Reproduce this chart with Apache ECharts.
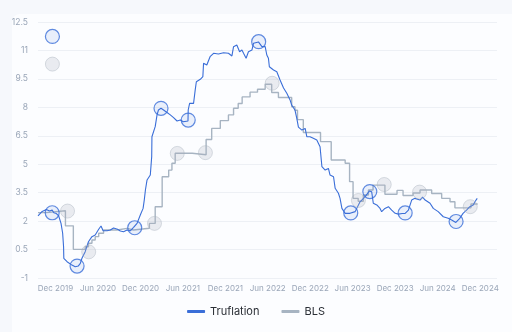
<!DOCTYPE html>
<html>
<head>
<meta charset="utf-8">
<script src="https://cdn.jsdelivr.net/npm/echarts@6/dist/echarts.min.js"></script>
<style>
  html, body { margin: 0; padding: 0; background: #f6f8fc; }
  #panel { position: absolute; left: 12px; top: 14px; width: 500px; height: 318px; background: #fcfdff; border-radius: 8px 0 0 0; }
  #chart { position: absolute; left: 0; top: 0; width: 512px; height: 332px; }
</style>
</head>
<body>
<div id="panel"></div>
<div id="chart"></div>
<script>
// Truflation daily inflation index (YoY %), sampled along its path
const truflationDates = [
  '2019-09-17','2019-10-05','2019-10-23','2019-11-05','2019-11-17','2019-11-24','2019-12-05','2019-12-15','2019-12-25',
  '2020-01-01','2020-01-05','2020-01-06','2020-01-20','2020-02-10','2020-02-24','2020-03-08','2020-03-17','2020-03-24',
  '2020-04-07','2020-04-21','2020-05-06','2020-05-20','2020-06-04','2020-06-14','2020-06-23','2020-07-10','2020-07-24',
  '2020-08-07','2020-08-24','2020-09-05','2020-09-19','2020-10-04','2020-10-18','2020-11-01','2020-11-16','2020-11-30',
  '2020-12-12','2020-12-17','2020-12-22','2020-12-29','2021-01-12','2021-01-18','2021-01-19','2021-01-26','2021-02-02',
  '2021-02-10','2021-02-16','2021-02-27','2021-03-10','2021-03-25','2021-04-08','2021-04-22','2021-05-07','2021-05-21',
  '2021-06-03','2021-06-23','2021-06-24','2021-06-30','2021-07-17','2021-07-24','2021-07-29','2021-08-15','2021-08-26',
  '2021-08-29','2021-09-12','2021-09-26','2021-10-11','2021-11-01','2021-11-23','2021-12-14','2021-12-29','2022-01-05',
  '2022-01-19','2022-01-31','2022-02-10','2022-02-17','2022-02-28','2022-03-10','2022-03-25','2022-04-01','2022-04-22',
  '2022-05-07','2022-05-21','2022-05-28','2022-06-04','2022-06-08','2022-06-26','2022-07-10','2022-07-24','2022-08-08',
  '2022-08-22','2022-09-05','2022-09-12','2022-09-26','2022-10-04','2022-10-11','2022-10-26','2022-11-09','2022-11-16',
  '2022-11-30','2022-12-14','2022-12-29','2023-01-12','2023-01-20','2023-02-03','2023-02-17','2023-02-24','2023-03-11',
  '2023-03-18','2023-04-01','2023-04-08','2023-04-16','2023-04-30','2023-05-21','2023-06-12','2023-07-03','2023-07-25',
  '2023-08-12','2023-08-22','2023-08-29','2023-09-13','2023-09-27','2023-10-04','2023-10-18','2023-11-02','2023-11-16',
  '2023-12-01','2023-12-15','2023-12-31','2024-01-13','2024-01-27','2024-02-10','2024-02-24','2024-03-17','2024-03-28',
  '2024-04-08','2024-04-29','2024-05-13','2024-06-03','2024-06-25','2024-07-16','2024-07-31','2024-08-18','2024-09-04',
  '2024-09-18','2024-10-03','2024-10-17','2024-11-01','2024-11-08','2024-11-18'
];
const truflationValues = [
  2.27,2.51,2.61,2.53,2.58,2.44,2.40,2.27,1.88,
  1.36,0.65,0.04,-0.14,-0.32,-0.41,-0.37,-0.23,0.04,
  0.39,0.91,1.18,1.27,1.57,1.74,1.49,1.49,1.53,
  1.64,1.57,1.48,1.44,1.53,1.49,1.67,1.88,2.32,
  2.67,3.11,3.64,4.17,4.43,5.40,6.45,6.54,6.98,
  7.60,7.86,7.95,7.86,7.73,7.60,7.46,7.28,7.33,
  7.24,7.28,7.86,8.21,8.21,8.91,9.35,9.48,9.62,
  10.32,10.23,10.67,10.85,10.81,10.88,10.85,10.71,11.20,
  11.29,10.93,11.02,10.85,10.59,10.93,11.02,11.38,11.45,
  11.20,11.20,10.76,10.59,10.14,9.97,9.88,9.44,9.02,
  8.74,8.39,8.12,7.86,7.42,6.96,6.80,6.89,6.45,
  6.45,6.37,6.28,5.92,4.87,4.69,4.78,4.43,4.34,
  3.73,3.47,3.20,2.67,2.41,2.41,2.50,3.02,3.29,
  3.59,3.55,2.94,2.85,2.67,2.50,2.67,2.76,2.58,
  2.41,2.37,2.40,2.41,2.58,3.11,3.20,3.11,3.27,
  3.11,2.94,2.67,2.50,2.23,2.15,2.06,1.93,2.15,
  2.41,2.58,2.76,2.85,3.02,3.20
];

// BLS CPI (YoY %), each value holds until the next release
const blsDates = [
  '2019-09-17','2019-10-23','2020-01-13','2020-02-16','2020-04-07','2020-04-21','2020-05-06','2020-05-20','2020-06-04',
  '2020-06-25','2020-08-22','2020-10-04','2020-11-01','2021-01-08','2021-02-02','2021-03-04','2021-04-01','2021-04-15',
  '2021-04-29','2021-07-11','2021-09-09','2021-10-03','2021-11-09','2021-12-14','2022-01-05','2022-01-25','2022-02-11',
  '2022-03-17','2022-04-18','2022-05-21','2022-06-18','2022-07-17','2022-09-12','2022-09-26','2022-10-07','2022-11-01',
  '2023-01-14','2023-03-01','2023-04-30','2023-05-19','2023-06-03','2023-06-25','2023-07-17','2023-08-08','2023-08-28',
  '2023-10-18','2023-12-09','2024-01-04','2024-02-16','2024-03-17','2024-05-06','2024-06-18','2024-07-24','2024-08-14',
  '2024-10-22','2024-11-20'
];
const blsValues = [
  2.45,2.55,1.75,0.51,0.65,0.83,1.00,1.18,1.36,
  1.53,1.62,1.53,1.62,1.88,2.76,4.34,4.69,5.05,
  5.58,5.50,6.30,6.89,7.30,7.60,7.95,8.20,8.55,
  8.80,8.95,9.22,8.78,8.52,8.03,7.85,7.35,6.67,
  6.19,5.22,5.05,4.08,3.20,3.05,3.38,3.64,3.90,
  3.42,3.62,3.35,3.48,3.64,3.46,3.20,3.02,2.70,
  2.90,2.92
];

// Highlighted points on each series
const truflationMarkDates = ['2019-11-18','2019-11-17','2020-03-03','2020-11-06','2021-02-27','2021-06-24','2022-04-23','2023-05-24','2023-08-14','2024-01-13','2024-08-19'];
const truflationMarkValues = [11.74,2.44,-0.37,1.65,7.95,7.33,11.46,2.43,3.56,2.43,1.98];
const blsMarkDates = ['2019-11-18','2020-01-22','2020-04-22','2021-01-30','2021-05-08','2021-09-06','2022-06-20','2023-06-26','2023-10-15','2024-03-15','2024-10-19'];
const blsMarkValues = [10.28,2.53,0.38,1.88,5.57,5.61,9.27,3.09,3.93,3.53,2.76];

// Axis settings
const xTickDates = ['2019-12-01','2020-06-01','2020-12-01','2021-06-01','2021-12-01','2022-06-01','2022-12-01','2023-06-01','2023-12-01','2024-06-01','2024-12-01'];
const xStart = '2019-09-17', xEnd = '2025-02-11';
const monthNames = ['Jan','Feb','Mar','Apr','May','Jun','Jul','Aug','Sep','Oct','Nov','Dec'];
const yMin = -1, yMax = 12.5, yStep = 1.5;

const ts = (s) => { const [y, m, d] = s.split('-').map(Number); return Date.UTC(y, m - 1, d); };
const zip = (d, v) => d.map((x, i) => [ts(x), v[i]]);

const BLUE = '#3a6ed8';
const GREY = '#a7b4c2';
const FONT = 'Inter, "Noto Sans", sans-serif';

const chart = echarts.init(document.getElementById('chart'), null, { renderer: 'canvas' });
chart.setOption({
  animation: false,
  backgroundColor: 'transparent',
  grid: { left: 38, right: 15, top: 22, bottom: 54 },
  legend: {
    data: ['Truflation', 'BLS'],
    left: 'center',
    top: 301,
    icon: 'roundRect',
    itemWidth: 18,
    itemHeight: 3,
    itemGap: 22,
    textStyle: { color: '#2b2f36', fontSize: 11, fontFamily: FONT }
  },
  xAxis: {
    type: 'value',
    min: ts(xStart),
    max: ts(xEnd),
    axisLine: { show: false },
    axisTick: { show: false },
    splitLine: { show: false },
    axisLabel: {
      customValues: xTickDates.map(ts),
      color: '#9aa6b8',
      fontSize: 8,
      fontFamily: FONT,
      margin: 7,
      formatter: (v) => { const d = new Date(v); return monthNames[d.getUTCMonth()] + ' ' + d.getUTCFullYear(); }
    }
  },
  yAxis: {
    type: 'value',
    min: yMin,
    max: yMax,
    interval: yStep,
    axisLine: { show: false },
    axisTick: { show: false },
    splitLine: { lineStyle: { color: '#edf0f5', width: 1 } },
    axisLabel: { color: '#9aa6b8', fontSize: 8.5, fontFamily: FONT, margin: 10 }
  },
  series: [
    {
      name: 'BLS', type: 'line', step: 'end', showSymbol: false, color: GREY,
      lineStyle: { color: GREY, width: 1.4 }, data: zip(blsDates, blsValues), z: 2
    },
    {
      name: 'Truflation', type: 'line', showSymbol: false, color: BLUE,
      lineStyle: { color: BLUE, width: 1.1 }, data: zip(truflationDates, truflationValues), z: 3
    },
    {
      name: 'BLS points', type: 'scatter', symbolSize: 14, z: 4,
      itemStyle: { color: 'rgba(168,176,186,0.28)', borderColor: 'rgba(168,178,190,0.55)', borderWidth: 1 },
      data: zip(blsMarkDates, blsMarkValues)
    },
    {
      name: 'Truflation points', type: 'scatter', symbolSize: 14, z: 5,
      itemStyle: { color: 'rgba(58,110,216,0.12)', borderColor: BLUE, borderWidth: 1.2 },
      data: zip(truflationMarkDates, truflationMarkValues)
    }
  ]
});
</script>
</body>
</html>
